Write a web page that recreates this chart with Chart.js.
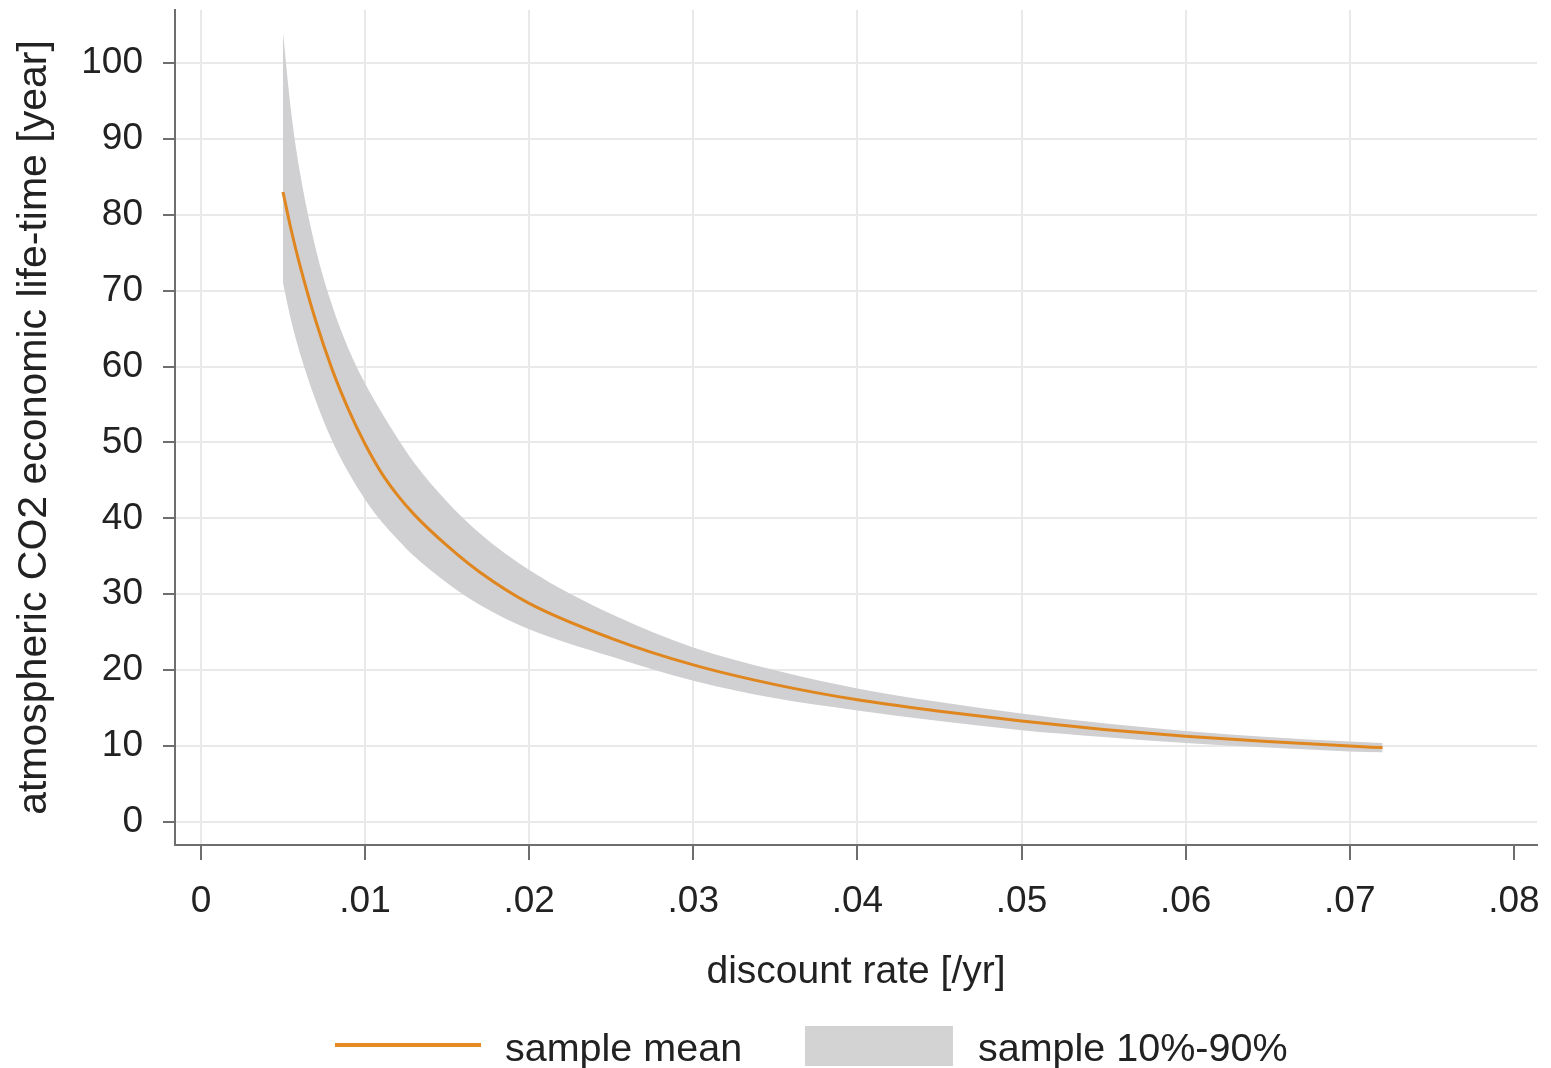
<!DOCTYPE html>
<html>
<head>
<meta charset="utf-8">
<title>CO2 economic life-time vs discount rate</title>
<script src="https://cdn.jsdelivr.net/npm/chart.js@4"></script>
<style>
  html, body { margin: 0; padding: 0; background: #fff; }
  #wrap { position: relative; width: 1551px; height: 1068px; }
  .legend { position: absolute; font-family: "Liberation Sans", Arial, sans-serif; font-size: 39.5px; color: #222; line-height: 40px; }
</style>
</head>
<body>
<div id="wrap">
  <canvas id="chart" width="1551" height="1068"></canvas>
  <div style="position:absolute;left:335px;top:1043px;width:146px;height:4px;background:#e58a25"></div>
  <div class="legend" style="left:505px;top:1027px">sample mean</div>
  <div style="position:absolute;left:805px;top:1026px;width:148px;height:40px;background:#d3d3d3"></div>
  <div class="legend" style="left:978px;top:1027px">sample 10%-90%</div>
</div>
<script>
// discount rate [/yr]
const rates = [0.005, 0.0055, 0.006, 0.007, 0.008, 0.009, 0.010, 0.011, 0.012, 0.013, 0.015, 0.017,
  0.020, 0.025, 0.030, 0.035, 0.040, 0.045, 0.050, 0.055, 0.060, 0.065, 0.070, 0.072];
// economic life-time [year]
const meanLife = [83, 78, 73.6, 66, 59.6, 54.3, 49.8, 46.0, 43.0, 40.5, 36.4, 32.9,
  28.8, 24.2, 20.7, 18.1, 16.1, 14.6, 13.3, 12.2, 11.3, 10.6, 10.0, 9.8];
const upperLife = [104, 93.5, 86, 75.5, 68, 62.3, 57.8, 54, 50.5, 47.3, 42.2, 38,
  33.2, 27.4, 23, 20, 17.6, 15.8, 14.3, 13, 12, 11.2, 10.6, 10.4];
const lowerLife = [71, 66, 62, 55.5, 50.2, 46, 42.5, 39.6, 37.2, 35, 31.5, 28.6,
  25.4, 21.8, 18.6, 16.3, 14.7, 13.3, 12.1, 11.2, 10.4, 9.8, 9.3, 9.2];

const xTicks = [0, 0.01, 0.02, 0.03, 0.04, 0.05, 0.06, 0.07, 0.08];
const xTickLabels = ["0", ".01", ".02", ".03", ".04", ".05", ".06", ".07", ".08"];
const yTicks = [0, 10, 20, 30, 40, 50, 60, 70, 80, 90, 100];
const yTickLabels = ["0", "10", "20", "30", "40", "50", "60", "70", "80", "90", "100"];

const pts = (ys) => rates.map((r, i) => ({ x: r, y: ys[i] }));

const fam = "'Liberation Sans', Arial, sans-serif";
const axisColor = "#6e6e6e";
const gridColor = "#e9e9e9";

new Chart(document.getElementById("chart"), {
  type: "line",
  data: {
    datasets: [
      { label: "sample mean", data: pts(meanLife), borderColor: "#e0861f", borderWidth: 3,
        pointRadius: 0, fill: false, cubicInterpolationMode: "monotone", order: 0 },
      { label: "sample 10%-90%", data: pts(upperLife), borderWidth: 0, borderColor: "rgba(0,0,0,0)",
        backgroundColor: "rgb(208,208,210)", pointRadius: 0, fill: "+1", cubicInterpolationMode: "monotone", order: 1 },
      { label: "lower", data: pts(lowerLife), borderWidth: 0, borderColor: "rgba(0,0,0,0)",
        pointRadius: 0, fill: false, cubicInterpolationMode: "monotone", order: 2 },
    ],
  },
  options: {
    responsive: false,
    animation: false,
    layout: { padding: { top: 10, right: 14, left: 0, bottom: 0 } },
    plugins: { legend: { display: false }, tooltip: { enabled: false } },
    scales: {
      x: {
        type: "linear",
        min: -0.00158,
        max: 0.08141,
        afterBuildTicks: (s) => { s.ticks = xTicks.map((v) => ({ value: v })); },
        afterFit: (s) => { s.height = 223; s.paddingLeft = 0; s.paddingRight = 0; },
        grid: {
          color: (c) => (c.tick && c.tick.value === 0.08 ? "rgba(0,0,0,0)" : gridColor),
          lineWidth: 2, tickLength: 15, tickColor: axisColor, tickWidth: 2,
        },
        border: { color: axisColor, width: 2 },
        ticks: { callback: (v, i) => xTickLabels[i], padding: 20, color: "#222", maxRotation: 0, autoSkip: false,
          font: { family: fam, size: 37 } },
        title: { display: true, text: "discount rate [/yr]", color: "#222", font: { family: fam, size: 39 },
          padding: { top: 0, bottom: 72 } },
      },
      y: {
        type: "linear",
        min: -3.03,
        max: 106.98,
        afterBuildTicks: (s) => { s.ticks = yTicks.map((v) => ({ value: v })); },
        afterFit: (s) => { s.width = 175; s.paddingTop = 0; s.paddingBottom = 0; },
        grid: { color: gridColor, lineWidth: 2, tickLength: 12, tickColor: axisColor, tickWidth: 2 },
        border: { color: axisColor, width: 2 },
        ticks: { callback: (v, i) => yTickLabels[i], padding: 20, color: "#222", autoSkip: false,
          font: { family: fam, size: 37 } },
        title: { display: true, text: "atmospheric CO2 economic life-time [year]", color: "#222",
          font: { family: fam, size: 41 }, padding: { top: 10, bottom: 0 } },
      },
    },
  },
});
</script>
</body>
</html>
